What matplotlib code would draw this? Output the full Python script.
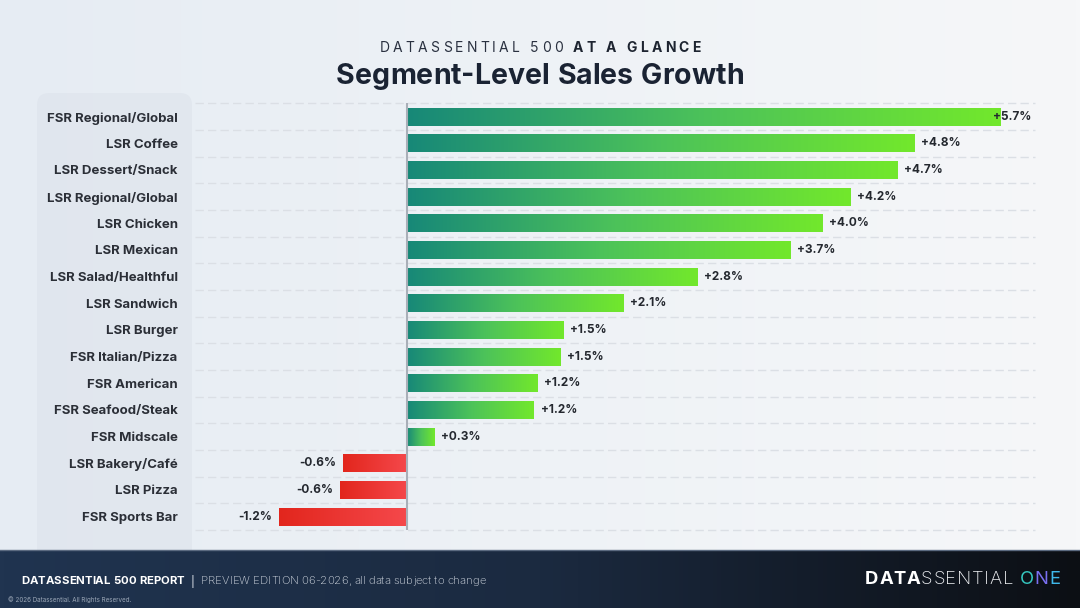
import numpy as np
import matplotlib
matplotlib.use('Agg')
from matplotlib import pyplot as plt
from matplotlib.colors import LinearSegmentedColormap
from matplotlib.patches import FancyBboxPatch

# chart data (bar lengths estimated from pixels)
segments = ['FSR Regional/Global', 'LSR Coffee', 'LSR Dessert/Snack', 'LSR Regional/Global',
            'LSR Chicken', 'LSR Mexican', 'LSR Salad/Healthful', 'LSR Sandwich', 'LSR Burger',
            'FSR Italian/Pizza', 'FSR American', 'FSR Seafood/Steak', 'FSR Midscale',
            'LSR Bakery/Café', 'LSR Pizza', 'FSR Sports Bar']
growth = [5.66, 4.84, 4.68, 4.23, 3.96, 3.66, 2.77, 2.06, 1.49, 1.46, 1.24, 1.21, 0.26,
          -0.61, -0.64, -1.22]

plt.rcParams['font.family'] = ['Inter', 'DejaVu Sans']

W, H = 1080, 608
fig = plt.figure(figsize=(W / 100, H / 100), dpi=100)

# background layer in pixel coordinates
bg = fig.add_axes([0, 0, 1, 1], zorder=0)
bg.set_xlim(0, W)
bg.set_ylim(0, H)
bg.axis('off')
bg_cmap = LinearSegmentedColormap.from_list('bg', ['#e6ecf3', '#eef2f6', '#f6f7f9'])
bg.imshow(np.linspace(0, 1, 256).reshape(1, -1), cmap=bg_cmap, extent=[0, W, 0, H],
          aspect='auto', zorder=0)

# label panel on the left
panel = FancyBboxPatch((37, 40), 155, 475, boxstyle='round,pad=0,rounding_size=12',
                       facecolor='#dfe5ed', edgecolor='none', alpha=0.75, zorder=1)
bg.add_patch(panel)

# footer band
foot_cmap = LinearSegmentedColormap.from_list('foot', ['#203450', '#1b2a40', '#0c0f14'])
bg.imshow(np.linspace(0, 1, 256).reshape(1, -1), cmap=foot_cmap, extent=[0, W, 0, 58],
          aspect='auto', zorder=2)
bg.plot([0, W], [58, 58], color='#5b6a80', lw=1, zorder=3)
bg.set_xlim(0, W)
bg.set_ylim(0, H)

# main bar axes
ax = fig.add_axes([195 / W, (H - 530) / H, 840 / W, 426.7 / H], zorder=2)
ax.patch.set_alpha(0)
y = np.arange(len(segments))
bars = ax.barh(y, growth, height=0.68, color='none', zorder=3)

pos_cmap = LinearSegmentedColormap.from_list('pos', ['#178878', '#4cc25a', '#72e82c'])
neg_cmap = LinearSegmentedColormap.from_list('neg', ['#e2261d', '#f5484b'])
grad = np.linspace(0, 1, 256).reshape(1, -1)
for b, v in zip(bars, growth):
    x0 = b.get_x()
    x1 = x0 + b.get_width()
    xl, xr = min(x0, x1), max(x0, x1)
    im = ax.imshow(grad, cmap=pos_cmap if v > 0 else neg_cmap, aspect='auto',
                   extent=[xl, xr, b.get_y(), b.get_y() + b.get_height()], zorder=3)
    im.set_clip_path(b)

xmin, xmax = -2.02, 5.99
ax.set_xlim(xmin, xmax)
ax.set_ylim(len(segments) - 0.5, -0.5)
ax.set_aspect('auto')

# dashed row separators and the zero line
for k in range(len(segments) + 1):
    ax.axhline(k - 0.5, color='#dbdfe5', lw=1, dashes=(6, 3), zorder=1, clip_on=False)
ax.axvline(0, color='#a9afb8', lw=1.5, zorder=4)

# value labels
pad = 0.065
for v, yy in zip(growth, y):
    s = f'{v:+.1f}%'
    if v > 0:
        if v + pad + 0.36 > xmax:
            ax.text(xmax - 0.03, yy, s, ha='right', va='center', fontsize=8.5,
                    fontweight='bold', color='#24282f', zorder=5)
        else:
            ax.text(v + pad, yy, s, ha='left', va='center', fontsize=8.5,
                    fontweight='bold', color='#24282f', zorder=5)
    else:
        ax.text(v - pad, yy, s, ha='right', va='center', fontsize=8.5,
                fontweight='bold', color='#24282f', zorder=5)

ax.set_yticks(y)
ax.set_yticklabels(segments, fontsize=9.5, fontweight='bold', color='#2b2f37')
ax.tick_params(left=False, bottom=False, labelbottom=False, pad=9)
for sp in ax.spines.values():
    sp.set_visible(False)

renderer = fig.canvas.get_renderer()


def place_run(x, yy, pieces, size, track=0.0, align='left'):
    # lay out text pieces one char at a time so letter spacing can be added
    items = []
    for txt, weight, color in pieces:
        for ch in txt:
            t = bg.text(0, yy, ch, fontsize=size, fontweight=weight, color=color,
                        ha='left', va='center_baseline', zorder=6)
            if ch == ' ':
                w = size * 100 / 72 * 0.28
            else:
                w = t.get_window_extent(renderer).width
            items.append((t, w))
    total = sum(w for _, w in items) + track * (len(items) - 1)
    if align == 'center':
        x = x - total / 2
    elif align == 'right':
        x = x - total
    for t, w in items:
        t.set_x(x)
        x += w + track
    return total


# titles
place_run(540, H - 47, [('DATASSENTIAL 500 ', 'normal', '#2a3140'),
                        ('AT A GLANCE', 'bold', '#1d2430')], 10, track=3.2, align='center')
place_run(540, H - 73, [('Segment-Level Sales Growth', 'bold', '#1a2333')], 20.5, track=0.0,
          align='center')

# footer texts
place_run(21, 28, [('DATASSENTIAL 500 REPORT', 'bold', '#ffffff'),
                   ('  |  ', 'normal', '#e8ecf2'),
                   ('PREVIEW EDITION 06-2026, all data subject to change', 'light', '#d3d9e2')],
          8.2)
bg.text(8, 8, '© 2026 Datassential. All Rights Reserved.', fontsize=4.5, color='#9aa6b6',
        va='center', zorder=6)
place_run(1060, 30, [('DATA', 'bold', '#ffffff'), ('SSENTIAL ', 'light', '#f2f4f7'),
                     ('O', 'normal', '#35c9c2'), ('N', 'normal', '#7a6ff0'),
                     ('E', 'normal', '#3fb8ea')], 13.3, track=0.7, align='right')

fig.savefig('out.png', dpi=100)
